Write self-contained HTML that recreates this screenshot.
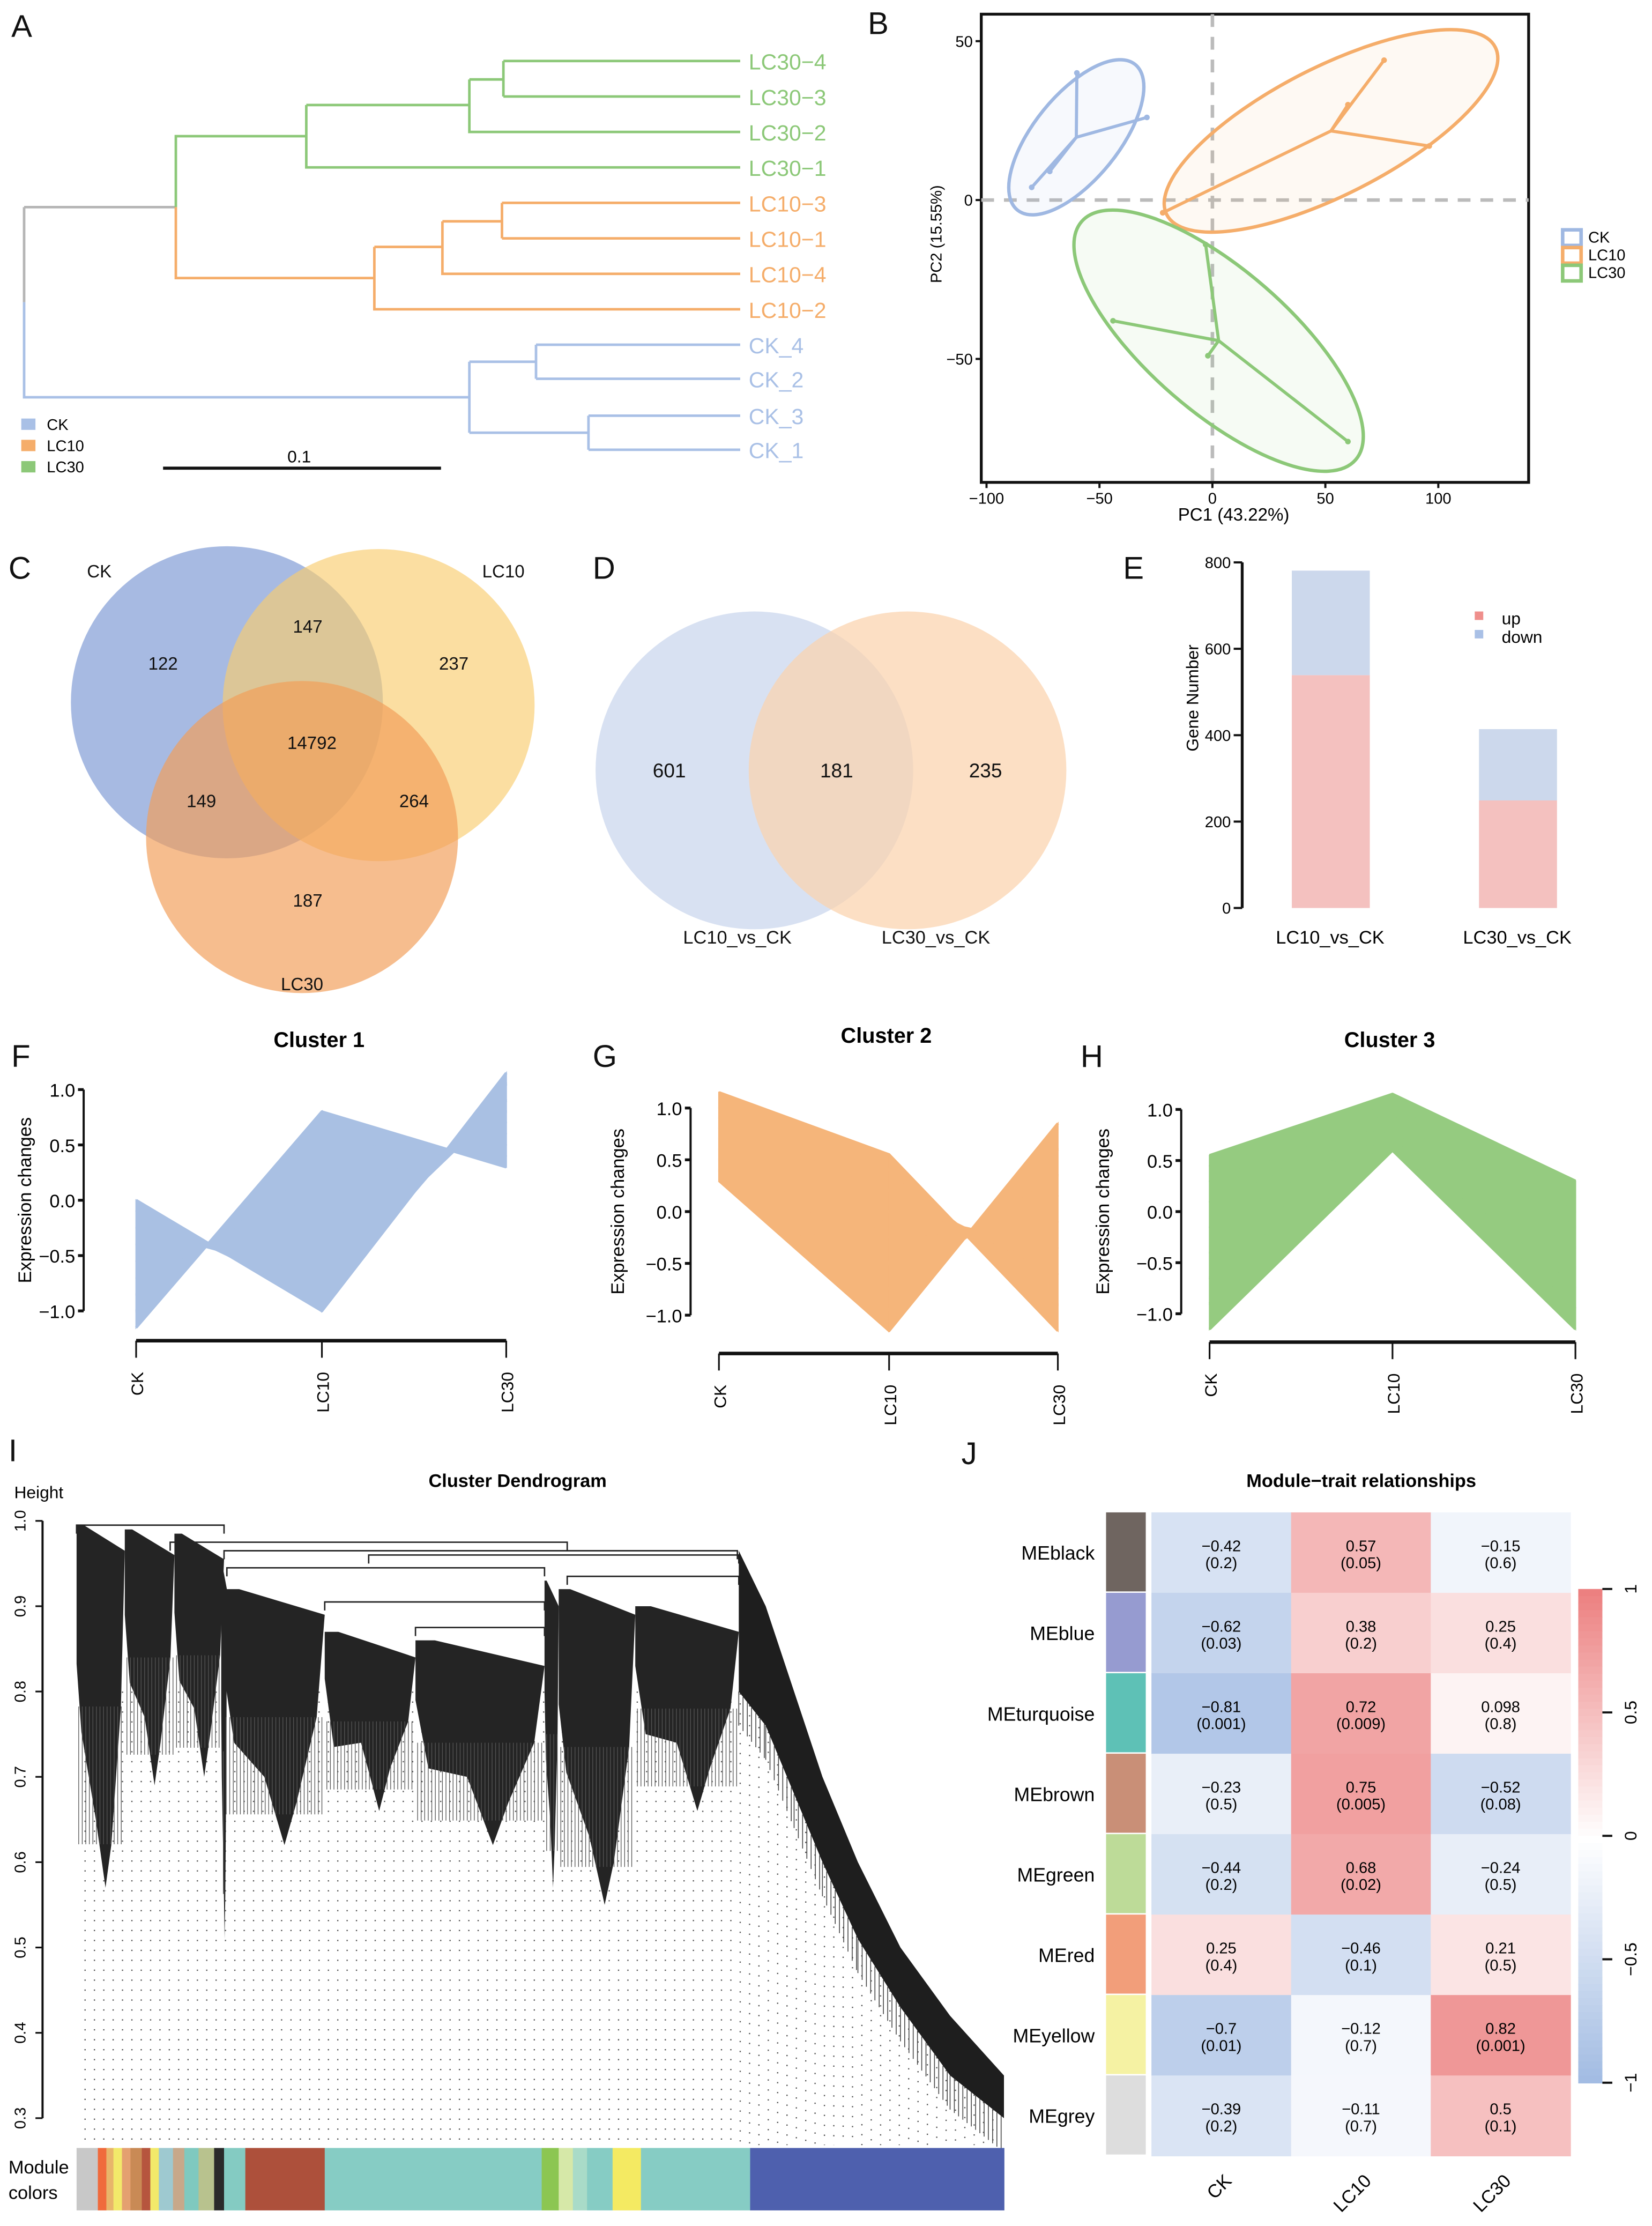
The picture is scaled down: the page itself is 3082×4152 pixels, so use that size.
<!DOCTYPE html>
<html><head><meta charset="utf-8"><style>
html,body{margin:0;padding:0;background:#fff}
svg{display:block}
text{font-family:"Liberation Sans",Arial,sans-serif}
</style></head><body>
<svg id="fig" xmlns="http://www.w3.org/2000/svg" width="3082" height="4152" viewBox="0 0 1165 1569" preserveAspectRatio="none">
<rect width="1165" height="1569" fill="#fff"/>
<g font-size="22" fill="#111">
<text x="8" y="26">A</text><text x="612" y="24">B</text><text x="6" y="408">C</text><text x="418" y="408">D</text>
<text x="792" y="408">E</text><text x="8" y="752">F</text><text x="418" y="752">G</text><text x="762" y="752">H</text>
<text x="6" y="1030">I</text><text x="678" y="1032">J</text></g>

<g id="pa" fill="none" stroke-width="1.8">
<path d="M17,146 H124 M17,146 V213" stroke="#b5b5b5"/>
<path d="M17,213 V280 H331" stroke="#a9c0e6"/>
<path d="M124,146 V96 H216 M216,74 V118 H522 M216,74 H331 M331,56 V93 H522 M331,56 H355 M355,43 V68 M355,43 H522 M355,68 H522" stroke="#8cc878"/>
<path d="M124,146 V196 H264 M264,174 V218 H522 M264,174 H312 M312,156 V193 H522 M312,156 H354 M354,143 V168 M354,143 H522 M354,168 H522" stroke="#f5ad6a"/>
<path d="M331,255 V305 M331,255 H378 M378,243 V267 M378,243 H522 M378,267 H522 M331,305 H415 M415,293 V317 M415,293 H522 M415,317 H522" stroke="#a9c0e6"/>
</g>
<g font-size="15.5">
<text x="528" y="49" fill="#8cc878">LC30−4</text><text x="528" y="74" fill="#8cc878">LC30−3</text>
<text x="528" y="99" fill="#8cc878">LC30−2</text><text x="528" y="124" fill="#8cc878">LC30−1</text>
<text x="528" y="149" fill="#f5ad6a">LC10−3</text><text x="528" y="174" fill="#f5ad6a">LC10−1</text>
<text x="528" y="199" fill="#f5ad6a">LC10−4</text><text x="528" y="224" fill="#f5ad6a">LC10−2</text>
<text x="528" y="249" fill="#a9c0e6">CK_4</text><text x="528" y="273" fill="#a9c0e6">CK_2</text>
<text x="528" y="299" fill="#a9c0e6">CK_3</text><text x="528" y="323" fill="#a9c0e6">CK_1</text></g>
<g font-size="11">
<rect x="15" y="295" width="10" height="8" fill="#a9c0e6"/><text x="33" y="303">CK</text>
<rect x="15" y="310" width="10" height="8" fill="#f5ad6a"/><text x="33" y="318">LC10</text>
<rect x="15" y="325" width="10" height="8" fill="#8cc878"/><text x="33" y="333">LC30</text></g>
<line x1="115" y1="330" x2="311" y2="330" stroke="#111" stroke-width="2.2"/>
<text x="211" y="326" font-size="12" text-anchor="middle">0.1</text>

<g id="pb"></g>

<g>
<circle cx="160" cy="495" r="110" fill="#8ea6da" opacity="0.78"/>
<circle cx="267" cy="497" r="110" fill="#f9cc6e" opacity="0.65"/>
<circle cx="213" cy="590" r="110" fill="#f29e58" opacity="0.68"/>
<g font-size="12.5" text-anchor="middle" fill="#111">
<text x="115" y="472">122</text><text x="217" y="446">147</text><text x="320" y="472">237</text>
<text x="220" y="528">14792</text><text x="142" y="569">149</text><text x="292" y="569">264</text><text x="217" y="639">187</text>
<text x="70" y="407">CK</text><text x="355" y="407">LC10</text><text x="213" y="698">LC30</text></g></g>

<g>
<circle cx="532" cy="543" r="112" fill="#d6dff1" opacity="0.95"/>
<circle cx="640" cy="543" r="112" fill="#fbd2ad" opacity="0.72"/>
<g font-size="14" text-anchor="middle" fill="#111">
<text x="472" y="548">601</text><text x="590" y="548">181</text><text x="695" y="548">235</text>
<text x="520" y="665" font-size="13">LC10_vs_CK</text><text x="660" y="665" font-size="13">LC30_vs_CK</text></g></g>

<g id="pe"></g>
<g id="pf"></g>
<g id="pg"></g>
<g id="ph"></g>
<g id="pi"></g>
<g id="pj"></g>
</svg>
<script>
const NS='http://www.w3.org/2000/svg';
function mk(tag,attrs,parent,txt){const e=document.createElementNS(NS,tag);for(const k in attrs)e.setAttribute(k,attrs[k]);if(txt!==undefined)e.textContent=txt;parent.appendChild(e);return e;}

// ---------- Panel B data ----------
const pcaGroups=['CK','LC10','LC30'];
const pcaColors=['#9fb8e2','#f5ad6a','#8cc878'];
const pc1CK=[-80,-72,-60,-29], pc2CK=[4,9,40,26];
const pc1LC10=[76,60,96,-22], pc2LC10=[44,30,17,-4];
const pc1LC30=[-3,-44,60,-2], pc2LC30=[-14,-38,-76,-49];
const pcxTicks=[-100,-50,0,50,100], pcyTicks=[50,0,-50];
(function(){
 const g=document.getElementById('pb');
 const X=v=>855+1.593*v, Y=v=>141-2.24*v;
 const box=mk('rect',{x:692,y:10,width:386,height:330,fill:'none',stroke:'#111','stroke-width':2},g);
 
 const d1=mk('line',{x1:X(0),y1:10,x2:X(0),y2:340,stroke:'#bbb','stroke-width':2.5,'stroke-dasharray':'9,7'},g);
 
 const d2=mk('line',{x1:692,y1:Y(0),x2:1078,y2:Y(0),stroke:'#bbb','stroke-width':2.5,'stroke-dasharray':'9,7'},g);
 
 const sets=[[pc1CK,pc2CK],[pc1LC10,pc2LC10],[pc1LC30,pc2LC30]];
 const ell=[[66,30,-51],[130,45,-27],[128,50,41]];
 sets.forEach((s,i)=>{
  const cx=s[0].reduce((a,b)=>a+b)/s[0].length, cy=s[1].reduce((a,b)=>a+b)/s[1].length;
  const px=X(cx),py=Y(cy);
  const e=mk('ellipse',{cx:px,cy:py,rx:ell[i][0],ry:ell[i][1],transform:`rotate(${ell[i][2]} ${px} ${py})`,fill:pcaColors[i],'fill-opacity':0.08,stroke:pcaColors[i],'stroke-width':2.4},g);
  
  s[0].forEach((v,j)=>{
   const l=mk('line',{x1:px,y1:py,x2:X(v),y2:Y(s[1][j]),stroke:pcaColors[i],'stroke-width':2.2},g);
   
   const p=mk('circle',{cx:X(v),cy:Y(s[1][j]),r:2,fill:pcaColors[i]},g);
   
  });
 });
 pcxTicks.forEach(t=>{mk('line',{x1:X(t),y1:340,x2:X(t),y2:344,stroke:'#111','stroke-width':1.5},g);
  const tx=mk('text',{x:X(t),y:355,'font-size':11,'text-anchor':'middle'},g,t===0?'0':String(t).replace('-','−'));
  });
 pcyTicks.forEach(t=>{mk('line',{x1:688,y1:Y(t),x2:692,y2:Y(t),stroke:'#111','stroke-width':1.5},g);
  const tx=mk('text',{x:686,y:Y(t)+4,'font-size':11,'text-anchor':'end'},g,String(t).replace('-','−'));
  });
 const xl=mk('text',{x:870,y:367,'font-size':12.5,'text-anchor':'middle'},g,'PC1 (43.22%)');
 
 const yl=mk('text',{x:664,y:165,'font-size':11,'text-anchor':'middle',transform:'rotate(-90 664 165)'},g,'PC2 (15.55%)');
 
 pcaGroups.forEach((n,i)=>{
  const r=mk('rect',{x:1102,y:162+i*12.5,width:13,height:11,fill:'#fff',stroke:pcaColors[i],'stroke-width':2.5},g);
  
  const t=mk('text',{x:1120,y:171+i*12.5,'font-size':11},g,n);
  
 });
})();

// ---------- Panel E data ----------
const degCategories=['LC10_vs_CK','LC30_vs_CK'];
const degUp=[539,249];
const degDown=[242,165];
const degTicks=[0,200,400,600,800];
(function(){
 const g=document.getElementById('pe');
 const Y=v=>640-0.3045*v;
 const ax=mk('line',{x1:876,y1:Y(0),x2:876,y2:Y(800),stroke:'#111','stroke-width':2},g);
 
 degTicks.forEach(t=>{mk('line',{x1:870,y1:Y(t),x2:876,y2:Y(t),stroke:'#111','stroke-width':1.5},g);
  const tx=mk('text',{x:868,y:Y(t)+4,'font-size':11,'text-anchor':'end'},g,String(t));
  });
 const xs=[911,1043];
 degCategories.forEach((c,i)=>{
  const up=mk('rect',{x:xs[i],y:Y(degUp[i]),width:55,height:Y(0)-Y(degUp[i]),fill:'#f4c1bf'},g);
  
  const dn=mk('rect',{x:xs[i],y:Y(degUp[i]+degDown[i]),width:55,height:Y(degUp[i])-Y(degUp[i]+degDown[i]),fill:'#ccd8ec'},g);
  
  const t=mk('text',{x:xs[i]+27,y:665,'font-size':13,'text-anchor':'middle'},g,c);
  
 });
 const yl=mk('text',{x:845,y:492,'font-size':12,'text-anchor':'middle',transform:'rotate(-90 845 492)'},g,'Gene Number');
 
 const l1=mk('rect',{x:1040,y:431,width:6,height:6,fill:'#ef8f8c'},g);
 const t1=mk('text',{x:1059,y:440,'font-size':12},g,'up');
 const l2=mk('rect',{x:1040,y:444,width:6,height:6,fill:'#a9c0e6'},g);
 const t2=mk('text',{x:1059,y:453,'font-size':12},g,'down');
})();

// ---------- Panels F G H data ----------
const clusterConditions=['CK','LC10','LC30'];
const clusterTicks=[1.0,0.5,0.0,-0.5,-1.0];
const cluster1Lines=[[-1.15,0.8,0.3],[-1.0,0.55,0.4],[-0.85,0.3,0.5],[-0.7,0.05,0.6],[-0.55,-0.2,0.7],[-0.4,-0.45,0.8],[-0.25,-0.7,0.9],[-0.1,-0.9,1.05],[0.0,-1.0,1.15]];
const cluster2Lines=[[0.3,-1.15,0.85],[0.4,-0.95,0.6],[0.5,-0.75,0.35],[0.6,-0.5,0.15],[0.7,-0.25,-0.1],[0.8,0.0,-0.35],[0.9,0.2,-0.6],[1.0,0.4,-0.9],[1.15,0.55,-1.15]];
const cluster3Lines=[[-1.15,0.6,-1.15],[-0.9,0.65,-0.95],[-0.65,0.7,-0.75],[-0.4,0.75,-0.55],[-0.15,0.8,-0.35],[0.1,0.88,-0.15],[0.3,0.96,0.0],[0.45,1.05,0.15],[0.55,1.15,0.3]];
function clusterPlot(id,lines,title,color,xs,y1,y0,axX,titleX,titleY,axisY,labX){
 const g=document.getElementById(id);
 const X=i=>xs[i], Y=v=>y0-(y0-y1)*v;
 const t=mk('text',{x:titleX,y:titleY,'font-size':15,'font-weight':'bold','text-anchor':'middle'},g,title);
 
 for(let s=0;s<2;s++){
  const sorted=lines.slice().sort((a,b)=>a[s]-b[s]);
  for(let k=0;k<sorted.length-1;k++){
   const a=sorted[k],b=sorted[k+1];
   const q=mk('polygon',{points:`${X(s)},${Y(a[s])} ${X(s+1)},${Y(a[s+1])} ${X(s+1)},${Y(b[s+1])} ${X(s)},${Y(b[s])}`,fill:color,stroke:color,'stroke-width':1},g);
   
  }
 }
 lines.forEach(v=>{
  const p=mk('path',{d:v.map((val,i)=>(i?'L':'M')+X(i)+','+Y(val)).join(' '),fill:'none',stroke:color,'stroke-width':2,'stroke-linejoin':'round'},g);
  
 });
 const ya=mk('line',{x1:axX,y1:Y(1),x2:axX,y2:Y(-1),stroke:'#111','stroke-width':1.5},g);
 
 clusterTicks.forEach(tv=>{mk('line',{x1:axX-4,y1:Y(tv),x2:axX,y2:Y(tv),stroke:'#111','stroke-width':2},g);
  const tx=mk('text',{x:axX-6,y:Y(tv)+5,'font-size':13,'text-anchor':'end'},g,tv.toFixed(1).replace('-','−'));
  });
 const xa=mk('line',{x1:xs[0],y1:axisY,x2:xs[2],y2:axisY,stroke:'#111','stroke-width':2.5},g);
 
 clusterConditions.forEach((c,i)=>{mk('line',{x1:X(i),y1:axisY,x2:X(i),y2:axisY+12,stroke:'#111','stroke-width':1.2},g);
  const tx=mk('text',{x:X(i)+5,y:axisY+22,'font-size':12,'text-anchor':'end',transform:`rotate(-90 ${X(i)+5} ${axisY+22})`},g,c);
  });
 const yl=mk('text',{x:labX,y:(Y(1)+Y(-1))/2,'font-size':13,'text-anchor':'middle',transform:`rotate(-90 ${labX} ${(Y(1)+Y(-1))/2})`},g,'Expression changes');
 
}
clusterPlot('pf',cluster1Lines,'Cluster 1','#a9c0e3',[96,227,357],768,846,59,225,738,945,22);
clusterPlot('pg',cluster2Lines,'Cluster 2','#f5b57a',[507,627,746],781,854,487,625,735,954,440);
clusterPlot('ph',cluster3Lines,'Cluster 3','#95cb80',[853,982,1111],782,854,833,980,738,946,782);

// ---------- Panel I data ----------
const dendTicks=[1.0,0.9,0.8,0.7,0.6,0.5,0.4,0.3];
const dendBlocks=[[54,88,0.995,0.57],[88,123,0.99,0.69],[123,158,0.985,0.70],[156,160,0.95,0.51],[158,229,0.92,0.62],[229,293,0.87,0.66],[293,384,0.86,0.62],[384,394,0.93,0.57],[394,448,0.92,0.55],[448,521,0.90,0.66]];
const rampX=[521,540,560,580,605,635,670,708];
const rampTop=[0.965,0.90,0.80,0.70,0.60,0.50,0.42,0.35];
const rampBottom=[0.80,0.76,0.68,0.60,0.51,0.43,0.35,0.30];
const moduleSegments=[[54,69,'#c8c8c8'],[69,75,'#f06a3c'],[75,80,'#e8b56a'],[80,86,'#f2e96a'],[86,92,'#e4a070'],[92,100,'#c98a55'],[100,106,'#b6553e'],[106,112,'#f2e96a'],[112,122,'#9ec9d0'],[122,130,'#c7a88a'],[130,140,'#7fc9bf'],[140,151,'#b8c28e'],[151,158,'#2a2a2a'],[158,173,'#84cbc2'],[173,229,'#ad503b'],[229,382,'#86ccc4'],[382,394,'#8cc652'],[394,404,'#d6e8a8'],[404,414,'#a9dbc8'],[414,432,'#86ccc4'],[432,452,'#f4ea62'],[452,456,'#86ccc4'],[456,529,'#86ccc4'],[529,708,'#4e60ae']];
(function(){
 const g=document.getElementById('pi');
 const Y=h=>1072+(1.0-h)*601.4;
 const t=mk('text',{x:365,y:1048,'font-size':13,'font-weight':'bold','text-anchor':'middle'},g,'Cluster Dendrogram');
 
 const ht=mk('text',{x:10,y:1056,'font-size':12},g,'Height');
 const ax=mk('line',{x1:30,y1:Y(1),x2:30,y2:Y(0.3),stroke:'#111','stroke-width':1.5},g);
 
 dendTicks.forEach(tv=>{mk('line',{x1:25,y1:Y(tv),x2:30,y2:Y(tv),stroke:'#111','stroke-width':1.2},g);
  const tx=mk('text',{x:18,y:Y(tv),'font-size':11,'text-anchor':'middle',transform:`rotate(-90 18 ${Y(tv)})`},g,tv.toFixed(1));
  });
 for(let x=60;x<=706;x+=6.6){
  let top=Y(0.8);
  if(x>521){let i=0;while(i<rampX.length-1&&rampX[i+1]<x)i++;const f=(x-rampX[i])/(rampX[i+1]-rampX[i]);top=Math.max(top,Y(rampBottom[i]+(rampBottom[i+1]-rampBottom[i])*f));}
  const l=mk('line',{x1:x,y1:top,x2:x,y2:1512,stroke:'#555','stroke-width':0.9,'stroke-dasharray':'0.9,6.1'},g);
  }
 const merges=[[54,158,0.995],[120,400,0.975],[158,520,0.965],[260,521,0.96],[160,384,0.945],[400,521,0.935],[229,384,0.905],[293,384,0.875]];
 merges.forEach(m=>{const p=mk('path',{d:`M${m[0]},${Y(m[2])+6} V${Y(m[2])} H${m[1]} V${Y(m[2])+6}`,fill:'none',stroke:'#222','stroke-width':1},g);
  });
 dendBlocks.forEach(b=>{
  const [x0,x1,top,bot]=b, w=x1-x0, mid=top-(top-bot)*0.5;
  const p=mk('polygon',{points:`${x0},${Y(top)} ${x0+w*0.15},${Y(top)} ${x1},${Y(top-0.03)} ${x1-w*0.08},${Y(mid)} ${x0+w*0.72},${Y(bot+0.05)} ${x0+w*0.6},${Y(bot)} ${x0+w*0.4},${Y(bot+0.08)} ${x0+w*0.1},${Y(mid-0.03)} ${x0},${Y(mid+0.05)}`,fill:'#242424'},g);
  
  for(let x=x0+1.5;x<x1;x+=2.5){const l=mk('line',{x1:x,y1:Y(mid),x2:x,y2:Y(bot+(top-bot)*0.12),stroke:'#555','stroke-width':0.5},g);
   }
 });
 let rp='';rampX.forEach((x,i)=>rp+=(i?'L':'M')+x+','+Y(rampTop[i])+' ');
 for(let i=rampX.length-1;i>=0;i--)rp+='L'+rampX[i]+','+Y(rampBottom[i])+' ';
 const r=mk('path',{d:rp+'Z',fill:'#1e1e1e'},g);
 for(let i=0;i<rampX.length-1;i++){for(let x=rampX[i];x<rampX[i+1];x+=3){const f=(x-rampX[i])/(rampX[i+1]-rampX[i]);const b=rampBottom[i]+(rampBottom[i+1]-rampBottom[i])*f;
  const l=mk('line',{x1:x,y1:Y(b),x2:x,y2:Y(b-0.04),stroke:'#444','stroke-width':0.6},g);}}
 moduleSegments.forEach(s=>{const m=mk('rect',{x:s[0],y:1514,width:s[1]-s[0]+0.3,height:44,fill:s[2]},g);
  });
 const ml=mk('text',{x:6,y:1532,'font-size':13},g,'Module');
 const ml2=mk('text',{x:6,y:1550,'font-size':13},g,'colors');
})();

// ---------- Panel J data ----------
const jModules=['MEblack','MEblue','MEturquoise','MEbrown','MEgreen','MEred','MEyellow','MEgrey'];
const jModuleColors=['#6f6560','#969bd0','#5ec1b6','#c98f77','#bddb98','#f29e7a','#f5f2a3','#dddddd'];
const jTraits=['CK','LC10','LC30'];
const jCor=[[-0.42,0.57,-0.15],[-0.62,0.38,0.25],[-0.81,0.72,0.098],[-0.23,0.75,-0.52],[-0.44,0.68,-0.24],[0.25,-0.46,0.21],[-0.7,-0.12,0.82],[-0.39,-0.11,0.5]];
const jP=[['0.2','0.05','0.6'],['0.03','0.2','0.4'],['0.001','0.009','0.8'],['0.5','0.005','0.08'],['0.2','0.02','0.5'],['0.4','0.1','0.5'],['0.01','0.7','0.001'],['0.2','0.7','0.1']];
const jScaleTicks=[1,0.5,0,-0.5,-1];
(function(){
 const g=document.getElementById('pj');
 function col(v){const a=Math.min(1,Math.abs(v));const c=v>0?[236,128,128]:[160,186,226];
  const m=i=>Math.round(255+(c[i]-255)*a);return `rgb(${m(0)},${m(1)},${m(2)})`;}
 const t=mk('text',{x:960,y:1048,'font-size':13,'font-weight':'bold','text-anchor':'middle'},g,'Module−trait relationships');
 
 const x0=812,cw=98.5,y0=1066,rh=56.7;
 jModules.forEach((m,r)=>{
  const s=mk('rect',{x:780,y:y0+r*rh,width:28,height:rh-1,fill:jModuleColors[r]},g);
  
  const lb=mk('text',{x:772,y:y0+r*rh+rh/2+5,'font-size':13.5,'text-anchor':'end'},g,m);
  
  jTraits.forEach((tr,c)=>{
   const cell=mk('rect',{x:x0+c*cw,y:y0+r*rh,width:cw+0.3,height:rh+0.3,fill:col(jCor[r][c])},g);
   
   const cx=x0+c*cw+cw/2, cy=y0+r*rh+rh/2;
   const t1=mk('text',{x:cx,y:cy-1,'font-size':11,'text-anchor':'middle'},g,String(jCor[r][c]).replace('-','−'));
   
   const t2=mk('text',{x:cx,y:cy+11,'font-size':11,'text-anchor':'middle'},g,'('+jP[r][c]+')');
   
  });
 });
 jTraits.forEach((tr,c)=>{const cx=x0+c*cw+cw/2+8, cy=1538;
  const tx=mk('text',{x:cx,y:cy,'font-size':13,'text-anchor':'end',transform:`rotate(-45 ${cx} ${cy})`},g,tr);
  });
 const cbTop=1120, cbBot=1468;
 for(let i=0;i<70;i++){const v=1-2*i/70;const r=mk('rect',{x:1113,y:cbTop+i*(cbBot-cbTop)/70,width:17,height:(cbBot-cbTop)/70+0.5,fill:col(v)},g);
  }
 jScaleTicks.forEach(tv=>{const y=cbTop+(1-tv)/2*(cbBot-cbTop);
  mk('line',{x1:1130,y1:y,x2:1137,y2:y,stroke:'#111','stroke-width':1.5},g);
  const tx=mk('text',{x:1154,y:y,'font-size':12,'text-anchor':'middle',transform:`rotate(-90 1154 ${y})`},g,String(tv).replace('-','−'));
  });
})();
</script>
</body></html>
